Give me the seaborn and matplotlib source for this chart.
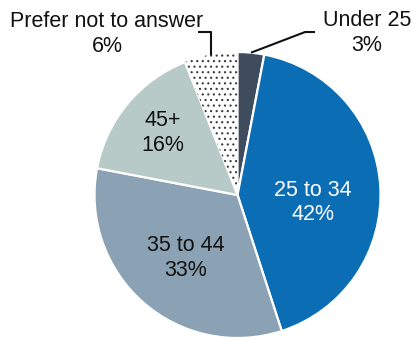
import numpy as np
import matplotlib
matplotlib.use("Agg")
import matplotlib.pyplot as plt
import seaborn as sns

# Age distribution of respondents
categories = ["Under 25", "25 to 34", "35 to 44", "45+", "Prefer not to answer"]
shares = [3, 42, 33, 16, 6]

sns.set_theme(style="white")
plt.rcParams["font.family"] = ["Liberation Sans", "DejaVu Sans"]
plt.rcParams["hatch.linewidth"] = 0.8

palette = sns.color_palette(["#3f4c5e", "#0b6db4", "#8aa2b4", "#b8cac7", "#ffffff"])
text_colors = ["#111111", "#ffffff", "#111111", "#111111", "#111111"]

# Layout: inside labels as (radius fraction) along the wedge mid-angle,
# outside labels as (x, y) in pie units with an elbow leader line.
inside_radius = {1: 0.53, 2: 0.57, 3: 0.68}
inside_angle_shift = {1: -9.0, 2: 2.0, 3: 0.0}
outside_text = {0: (0.906, 1.133), 4: (-0.913, 1.126)}
outside_elbow = {0: [(0.472, 1.140), (0.542, 1.140)],
                 4: [(None, 1.140), (-0.276, 1.140)]}

fig = plt.figure(figsize=(4.12, 3.39), dpi=100)
ax = fig.add_axes([0, 0, 1, 1])

wedges, _ = ax.pie(
    shares,
    colors=palette,
    startangle=90,
    counterclock=False,
    radius=1.0,
    wedgeprops=dict(edgecolor="white", linewidth=1.6),
)

# Dotted fill for the "Prefer not to answer" slice
dotted = wedges[4]
dotted.set_edgecolor("#3a3a3a")
dotted.set_linewidth(0)
dotted.set_hatch("...")

fs = 15.5
for i, w in enumerate(wedges):
    mid = np.deg2rad((w.theta1 + w.theta2) / 2.0)
    label = f"{categories[i]}\n{shares[i]}%"
    if i in inside_radius:
        ang = mid + np.deg2rad(inside_angle_shift[i])
        r = inside_radius[i]
        ax.text(r * np.cos(ang), r * np.sin(ang), label, ha="center", va="center",
                multialignment="center", fontsize=fs, color=text_colors[i],
                linespacing=1.2)
    else:
        x0, y0 = np.cos(mid), np.sin(mid)
        pts = [(x0, y0)]
        for px, py in outside_elbow[i]:
            pts.append((x0 if px is None else px, py))
        xs, ys = zip(*pts)
        ax.plot(xs, ys, color="#111111", linewidth=1.5, solid_capstyle="butt")
        tx, ty = outside_text[i]
        ax.text(tx, ty, label, ha="center", va="center", multialignment="center",
                fontsize=fs, color=text_colors[i], linespacing=1.2)

ax.set_xlim(-1.661, 1.220)
ax.set_ylim(-1.007, 1.364)
ax.set_aspect("auto")
ax.axis("off")

fig.savefig("out.png", dpi=100, facecolor="white")
